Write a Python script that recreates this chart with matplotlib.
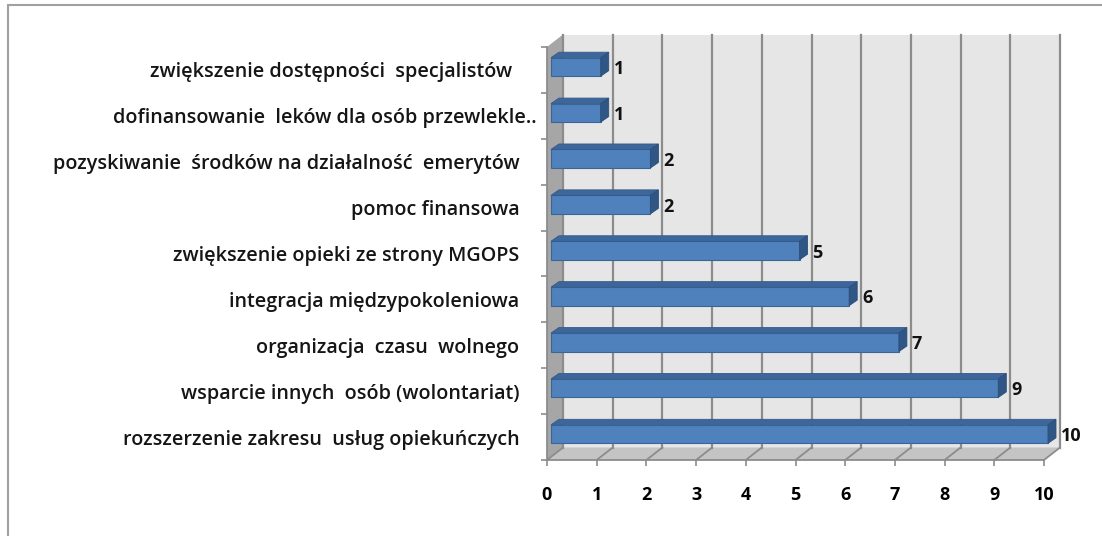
import matplotlib.pyplot as plt
import numpy as np
from matplotlib.patches import Polygon, Rectangle
from matplotlib.transforms import ScaledTranslation

plt.rcParams['font.family'] = ['Open Sans', 'DejaVu Sans']

# data, bottom to top
labels = ['rozszerzenie zakresu  usług opiekuńczych',
          'wsparcie innych  osób (wolontariat)',
          'organizacja  czasu  wolnego',
          'integracja międzypokoleniowa',
          'zwiększenie opieki ze strony MGOPS',
          'pomoc finansowa',
          'pozyskiwanie  środków na działalność  emerytów',
          'dofinansowanie  leków dla osób przewlekle..',
          'zwiększenie dostępności  specjalistów']
values = [10, 9, 7, 6, 5, 2, 2, 1, 1]
xticks = list(range(0, 11))

W, H = 1102, 536
fig = plt.figure(figsize=(W / 100, H / 100), dpi=100)
ax = fig.add_axes([547 / W, 1 - 460 / H, 497 / W, 413 / H])
ax.set_xlim(0, 10)
ax.set_ylim(-0.5, 8.5)

# pixel -> data unit sizes
ux = 497 / 10.0
uy = 413 / 9.0
dx, dy = 16 / ux, 12.5 / uy          # wall depth
grid_c = '#8c8c8c'

# back wall, side wall, floor
ax.add_patch(Rectangle((dx, -0.5 + dy), 10, 9, fc='#e6e6e6', ec='none',
                       clip_on=False, zorder=0))
ax.add_patch(Polygon([(0, -0.5), (dx, -0.5 + dy), (dx, 8.5 + dy), (0, 8.5)],
                     closed=True, fc='#a6a6a6', ec='none', clip_on=False, zorder=0))
ax.add_patch(Polygon([(0, -0.5), (10, -0.5), (10 + dx, -0.5 + dy), (dx, -0.5 + dy)],
                     closed=True, fc='#c4c4c4', ec='none', clip_on=False, zorder=0))
for i in xticks:
    ax.plot([i + dx, i + dx], [-0.5 + dy, 8.5 + dy], color=grid_c, lw=1.6,
            clip_on=False, zorder=1)
    ax.plot([i, i + dx], [-0.5, -0.5 + dy], color=grid_c, lw=1.3,
            clip_on=False, zorder=1)

# bars (front face through barh, then top and end faces)
ox, oy = 4 / ux, 3 / uy
bdx, bdy = 8 / ux, 5.5 / uy
bh = 18.5 / uy
y = np.arange(len(values))
bars = ax.barh(y + oy, values, left=ox, height=bh, color='#4f81bd',
               edgecolor='#3a6597', linewidth=0.8, zorder=3)
for b in bars:
    b.set_clip_on(False)
for yi, v in zip(y, values):
    top = yi + oy + bh / 2
    ax.add_patch(Polygon([(ox, top), (ox + v, top), (ox + v + bdx, top + bdy),
                          (ox + bdx, top + bdy)], closed=True, fc='#3d679b',
                         ec='#34598a', lw=0.6, zorder=3, clip_on=False))
    ax.add_patch(Polygon([(ox + v, top), (ox + v + bdx, top + bdy),
                          (ox + v + bdx, top + bdy - bh), (ox + v, top - bh)],
                         closed=True, fc='#2f5684', ec='#2b4f7a', lw=0.6,
                         zorder=3, clip_on=False))
    ax.text(ox + v + bdx + 5 / ux, yi + oy - 2 / uy, str(v), ha='left', va='center',
            fontsize=13, fontweight='bold', color='#111111', clip_on=False)

# axes styling
for s in ['top', 'right']:
    ax.spines[s].set_visible(False)
for s in ['left', 'bottom']:
    ax.spines[s].set_color(grid_c)
    ax.spines[s].set_linewidth(1.3)
ax.set_xticks(xticks)
ax.set_xticklabels([str(t) for t in xticks], fontsize=13, fontweight='bold')
ax.tick_params(axis='x', length=4.5, width=1.2, color=grid_c, pad=14)
ax.set_yticks(y)
ax.set_yticklabels(labels, fontsize=14.2, fontweight='semibold', color='#151515')
ax.set_yticks(np.arange(-0.5, 9, 1), minor=True)
ax.tick_params(axis='y', which='major', length=0, pad=20)
ax.tick_params(axis='y', which='minor', length=4, width=1.2, color=grid_c)
ax.set_facecolor('none')

# small horizontal nudges of two labels (trailing space / overflow in original)
for idx, shift in [(7, 17), (8, -7)]:
    lbl = ax.get_yticklabels()[idx]
    lbl.set_transform(lbl.get_transform() +
                      ScaledTranslation(shift / 100, 0, fig.dpi_scale_trans))

# outer chart border
fig.patches.append(Rectangle((8 / W, -0.2), 1.2, 1 - 5 / H + 0.2,
                             transform=fig.transFigure, fill=False,
                             ec='#a0a0a0', lw=1.5))

fig.savefig('out.png', dpi=100)
